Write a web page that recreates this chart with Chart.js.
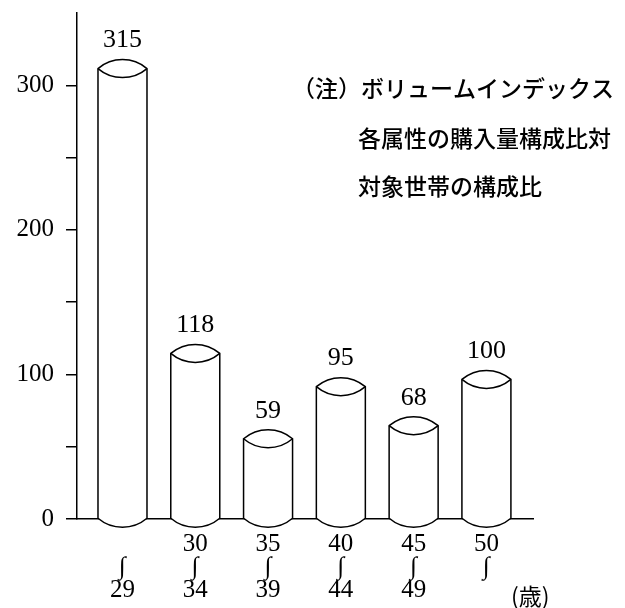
<!DOCTYPE html>
<html>
<head>
<meta charset="utf-8">
<script src="https://cdn.jsdelivr.net/npm/chart.js@4.4.1/dist/chart.umd.min.js"></script>
<style>
  html, body { margin: 0; padding: 0; background: #fff; }
</style>
</head>
<body>
<canvas id="chartCanvas" width="625" height="608"></canvas>
<script>
var ageFrom = ["", "30", "35", "40", "45", "50"];
var ageTo = ["29", "34", "39", "44", "49", ""];
var volumeIndex = [315, 118, 59, 95, 68, 100];
var yTicks = [0, 50, 100, 150, 200, 250, 300];
var yLabels = [0, 100, 200, 300];
var noteLines = ["（注）ボリュームインデックス", "各属性の購入量構成比対", "対象世帯の構成比"];
var unitLabel = "(歳)";

var numFont = "'Liberation Serif', 'DejaVu Serif', serif";
var jpFont = "'Noto Sans CJK JP', sans-serif";

// draws each bar as a cylinder: lens-shaped top, curved bottom
var cylinderPlugin = {
  id: "cylinders",
  afterDatasetsDraw: function (chart) {
    var ctx = chart.ctx;
    var meta = chart.getDatasetMeta(0);
    var h = 9;
    ctx.save();
    ctx.lineWidth = 1.5;
    ctx.strokeStyle = "#000";
    meta.data.forEach(function (bar, i) {
      var w = bar.width / 2;
      var l = bar.x - w, r = bar.x + w;
      var top = bar.y + 5;
      var base = bar.base;
      var rad = (w * w + h * h) / (2 * h);
      var ang = Math.asin(w / rad);

      ctx.fillStyle = "#fff";
      ctx.beginPath();
      ctx.moveTo(l, top);
      ctx.lineTo(l, base);
      ctx.arc(bar.x, base + h - rad, rad, Math.PI / 2 + ang, Math.PI / 2 - ang, true);
      ctx.lineTo(r, top);
      ctx.arc(bar.x, top - h + rad, rad, -Math.PI / 2 + ang, -Math.PI / 2 - ang, true);
      ctx.closePath();
      ctx.fill();
      ctx.stroke();

      ctx.beginPath();
      ctx.arc(bar.x, top + h - rad, rad, Math.PI / 2 + ang, Math.PI / 2 - ang, true);
      ctx.stroke();

      ctx.fillStyle = "#000";
      ctx.font = "26px " + numFont;
      ctx.textAlign = "center";
      ctx.textBaseline = "middle";
      ctx.fillText(String(volumeIndex[i]), bar.x, bar.y - 23);
    });
    ctx.restore();
  },
  afterDraw: function (chart) {
    var ctx = chart.ctx;
    ctx.save();
    ctx.fillStyle = "#000";
    ctx.textAlign = "left";
    ctx.textBaseline = "middle";
    ctx.font = "500 23px " + jpFont;
    ctx.fillText(noteLines[0], 292, 88);
    ctx.fillText(noteLines[1], 358, 138);
    ctx.fillText(noteLines[2], 358, 186);
    ctx.font = "23px " + jpFont;
    ctx.fillText(unitLabel, 511, 596);
    ctx.restore();
  }
};

function noPadding(axis) {
  axis.paddingTop = 0;
  axis.paddingBottom = 0;
  axis.paddingLeft = 0;
  axis.paddingRight = 0;
}

var ctx = document.getElementById("chartCanvas");
var indexChart = new Chart(ctx, {
  type: "bar",
  data: {
    datasets: [
      {
        data: volumeIndex.map(function (v, i) { return { x: i, y: v }; }),
        backgroundColor: "rgba(0,0,0,0)",
        borderWidth: 0,
        barThickness: 49
      }
    ]
  },
  options: {
    responsive: false,
    animation: false,
    devicePixelRatio: 1,
    layout: { padding: { top: 13, right: 92, bottom: 0, left: 0 } },
    plugins: { legend: { display: false }, tooltip: { enabled: false } },
    scales: {
      x: {
        type: "linear",
        offset: false,
        min: -0.625,
        max: 5.64,
        afterBuildTicks: function (axis) {
          axis.ticks = ageTo.map(function (t, i) { return { value: i }; });
        },
        afterFit: function (axis) {
          axis.height = 89;
          noPadding(axis);
        },
        grid: { display: false, drawTicks: false, offset: false },
        border: { display: true, color: "#000", width: 1.5 },
        ticks: {
          autoSkip: false,
          maxRotation: 0,
          padding: 14,
          color: "#000",
          font: { family: numFont, size: 25, lineHeight: "23px" },
          callback: function (value) {
            return [ageFrom[value], "∫", ageTo[value]];
          }
        }
      },
      y: {
        min: 0,
        max: 350,
        afterBuildTicks: function (axis) {
          axis.ticks = yTicks.map(function (v) { return { value: v }; });
        },
        afterFit: function (axis) {
          axis.width = 77;
          noPadding(axis);
        },
        grid: { drawOnChartArea: false, drawTicks: true, tickLength: 11, tickColor: "#000", lineWidth: 1.5 },
        border: { display: true, color: "#000", width: 1.5 },
        ticks: {
          padding: 12,
          color: "#000",
          font: { family: numFont, size: 25 },
          callback: function (value) {
            return yLabels.indexOf(value) >= 0 ? String(value) : "";
          }
        }
      }
    }
  },
  plugins: [cylinderPlugin]
});
</script>
</body>
</html>
